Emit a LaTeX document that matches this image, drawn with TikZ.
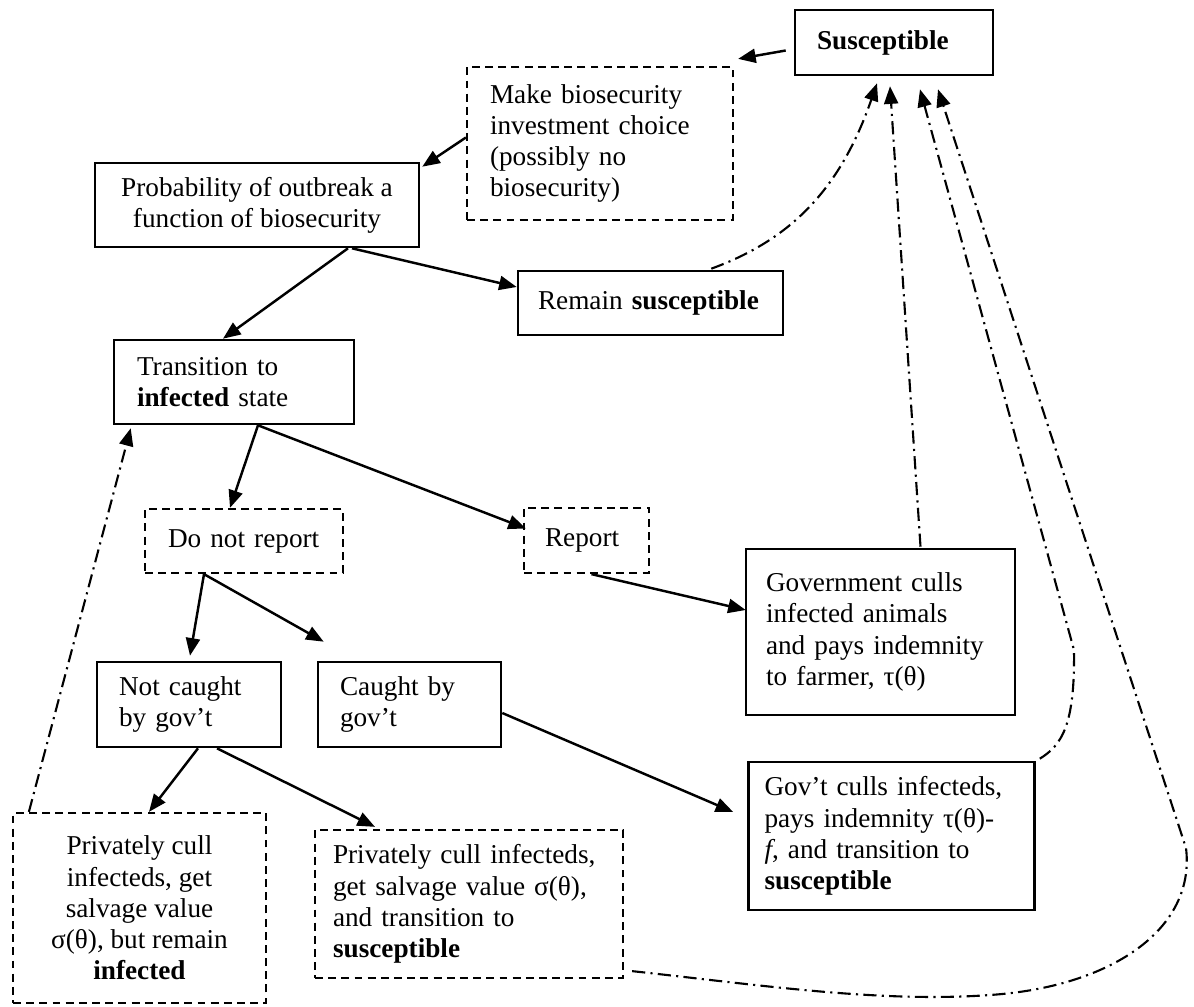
\documentclass[tikz,border=0pt]{standalone}
\usepackage{fontspec}
\setmainfont{Liberation Serif}
\usetikzlibrary{arrows.meta,calc}
\begin{document}
\begin{tikzpicture}[x=0.02cm,y=-0.02cm,
  font=\fontsize{15.5}{17.8}\selectfont,
  basebox/.style={rectangle, inner ysep=2pt, line width=1.5pt},
  solidbox/.style={basebox, draw},
  dashbox/.style={basebox, draw, line width=1.3pt, dash pattern=on 4.5pt off 3pt},
  arr/.style={line width=1.4pt, -{Triangle[length=10pt,width=8pt]}},
  dd/.style={line width=1.2pt, dash pattern=on 7.5pt off 3pt on 1.2pt off 3pt, -{Triangle[length=10pt,width=8pt]}}
]
\useasboundingbox (0,0) rectangle (1194,1007);

\node[solidbox, minimum width=3.96cm, minimum height=1.30cm, inner xsep=0.44cm, text width=3.08cm, align=left] (sus) at (894,42.5) {\textbf{Susceptible}};
\node[dashbox, minimum width=5.32cm, minimum height=3.06cm, inner xsep=0.46cm, text width=4.40cm, align=left] (make) at (600,143.5) {Make biosecurity\\investment choice\\(possibly no\\biosecurity)};
\node[solidbox, minimum width=6.48cm, minimum height=1.68cm, align=center] (prob) at (257,205) {Probability of outbreak a\\function of biosecurity};
\node[solidbox, minimum width=5.30cm, minimum height=1.28cm, inner xsep=0.40cm, text width=4.50cm, align=left] (remain) at (650.5,303) {Remain \textbf{susceptible}};
\node[solidbox, minimum width=4.80cm, minimum height=1.68cm, inner xsep=0.46cm, text width=3.88cm, align=left] (trans) at (234,382) {Transition to\\\textbf{infected} state};
\node[dashbox, minimum width=3.96cm, minimum height=1.28cm, inner xsep=0.46cm, text width=3.04cm, align=left] (dnr) at (244,541) {Do not report};
\node[dashbox, minimum width=2.50cm, minimum height=1.30cm, inner xsep=0.42cm, text width=1.66cm, align=left] (rep) at (586.5,540.5) {Report};
\node[solidbox, minimum width=5.38cm, minimum height=3.32cm, inner xsep=0.40cm, text width=4.58cm, align=left] (gov) at (880.5,632) {Government culls\\infected animals\\and pays indemnity\\to farmer, τ(θ)\\[-8pt]};
\node[solidbox, minimum width=3.68cm, minimum height=1.70cm, inner xsep=0.44cm, text width=2.80cm, align=left] (nc) at (189,704.5) {Not caught\\by gov’t};
\node[solidbox, minimum width=3.66cm, minimum height=1.70cm, inner xsep=0.44cm, text width=2.78cm, align=left] (cg) at (409.5,704.5) {Caught by\\gov’t};
\node[solidbox, minimum width=5.72cm, minimum height=2.96cm, inner xsep=0.32cm, text width=5.08cm, align=left] (govc) at (891.5,836) {Gov’t culls infecteds,\\pays indemnity τ(θ)-\\\textit{f}, and transition to\\\textbf{susceptible}};
\node[dashbox, minimum width=5.06cm, minimum height=3.80cm, align=center] (pcl) at (139.5,908) {Privately cull\\infecteds, get\\salvage value\\σ(θ), but remain\\\textbf{infected}};
\node[dashbox, minimum width=6.16cm, minimum height=2.96cm, inner xsep=0.36cm, text width=5.44cm, align=left] (pcm) at (469,904) {Privately cull infecteds,\\get salvage value σ(θ),\\and transition to\\\textbf{susceptible}};

% solid arrows
\draw[arr] ($(sus.west)+(-8,8)$) -- ($(make.north east)+(4,-7)$);
\draw[arr] ($(make.west)+(0,-6)$) -- ($(prob.north east)+(2,5)$);
\draw[arr] ($(prob.south)+(91,0)$) -- ($(trans.north)+(-11,0)$);
\draw[arr] ($(prob.south)+(95,0)$) -- ($(remain.west)+(0,-16)$);
\draw[arr] ($(trans.south)+(24,0)$) -- ($(dnr.north)+(-14,0)$);
\draw[arr] ($(trans.south)+(24,0)$) -- ($(rep.west)+(3,-12)$);
\draw[arr] ($(rep.south)+(5,0)$) -- ($(gov.west)+(1,-22)$);
\draw[arr] ($(dnr.south)+(-40,0)$) -- ($(nc.north)+(1,-5)$);
\draw[arr] ($(dnr.south)+(-40,0)$) -- ($(cg.north west)+(7,-19)$);
\draw[arr] ($(nc.south)+(9,0)$) -- ($(pcl.north)+(9.5,0)$);
\draw[arr] ($(nc.south)+(28,0)$) -- ($(pcm.north)+(-94,-2)$);
\draw[arr] ($(cg.east)+(0,8.5)$) -- ($(govc.west)+(-14,-24)$);

% dash-dot return arrows
\draw[dd] ($(remain.north east)+(-73,-1)$) .. controls (790,240) and (840,190) .. ($(sus.south)+(-17,7)$);
\draw[dd] ($(gov.north)+(40,-1)$) -- ($(sus.south)+(-4,10)$);
\draw[dd] ($(govc.north east)+(4,-2)$) .. controls (1062,745) and (1075,725) .. (1074,650) -- ($(sus.south)+(26,13)$);
\draw[dd] ($(pcm.south east)+(8,-8)$) .. controls (760,985) and (880,1003) .. (990,995) .. controls (1110,987) and (1196,930) .. (1186,848) -- ($(sus.south)+(44,13)$);
\draw[dd] ($(pcl.north west)+(17,0)$) -- ($(trans.south west)+(18,3)$);
\end{tikzpicture}
\end{document}
